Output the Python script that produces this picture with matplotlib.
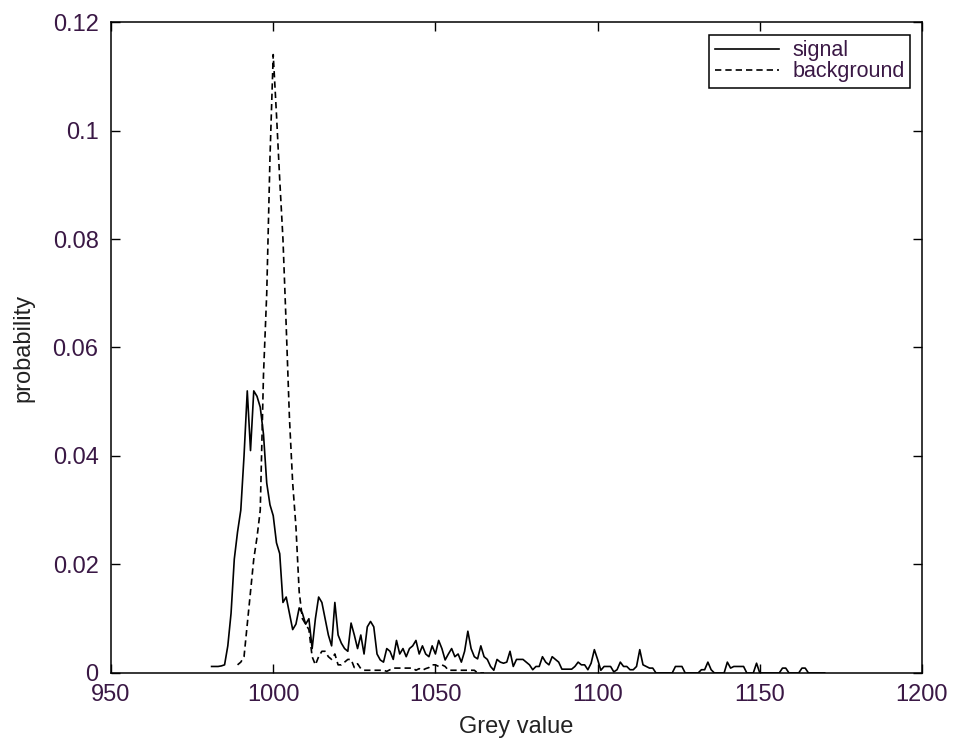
import matplotlib
matplotlib.use('Agg')
import matplotlib.pyplot as plt
import numpy as np

plt.rcParams['font.family'] = ['Liberation Sans', 'DejaVu Sans']

# grey level of the first bin of each histogram
signal_start = 981
background_start = 989

# probability per grey level
signal = [
    0.0012, 0.0012, 0.0012, 0.0013, 0.0015,
    0.005, 0.011, 0.021, 0.026, 0.030,
    0.040, 0.052, 0.041, 0.052, 0.051,
    0.049, 0.044, 0.035, 0.031, 0.029,
    0.024, 0.022, 0.013, 0.014, 0.011,
    0.008, 0.009, 0.012, 0.011, 0.009,
    0.010, 0.0045, 0.010, 0.014, 0.013,
    0.010, 0.007, 0.005, 0.013, 0.007,
    0.0055, 0.0045, 0.004, 0.0092, 0.007,
    0.0045, 0.007, 0.0035, 0.0085, 0.0095,
    0.0085, 0.0035, 0.0024, 0.002, 0.0045,
    0.004, 0.0025, 0.006, 0.0035, 0.0045,
    0.003, 0.0045, 0.005, 0.006, 0.0035,
    0.005, 0.0035, 0.003, 0.005, 0.0035,
    0.006, 0.0045, 0.0024, 0.0035, 0.0045,
    0.003, 0.0035, 0.002, 0.004, 0.0077,
    0.0045, 0.003, 0.0026, 0.005, 0.003,
    0.0025, 0.0012, 0.0005, 0.0025, 0.002,
    0.0018, 0.002, 0.004, 0.0012, 0.0025,
    0.0025, 0.0025, 0.002, 0.0015, 0.0006,
    0.0012, 0.0012, 0.003, 0.002, 0.0015,
    0.003, 0.0025, 0.002, 0.0007, 0.0007,
    0.0007, 0.0007, 0.0012, 0.002, 0.0015,
    0.0015, 0.0006, 0.0018, 0.0043, 0.0025,
    0.0005, 0.0012, 0.0012, 0.0012, 0.0002,
    0.0006, 0.002, 0.0012, 0.0012, 0.0006,
    0.0006, 0.0012, 0.0043, 0.0015, 0.0012,
    0.0009, 0.0009, 0, 0, 0,
    0, 0, 0, 0.0012, 0.0012,
    0.0012, 0, 0, 0, 0,
    0, 0.0006, 0.0006, 0.002, 0.0006,
    0, 0, 0, 0, 0.002,
    0.0009, 0.0012, 0.0012, 0.0012, 0.0012,
    0, 0, 0, 0.0018, 0,
    0, 0, 0, 0, 0,
    0, 0.0009, 0.0009, 0, 0,
    0, 0, 0.0009, 0.0009, 0,
    0, 0, 0, 0, 0,
]

background = [
    0.0015, 0.002, 0.003, 0.009, 0.015,
    0.021, 0.025, 0.030, 0.055, 0.070,
    0.095, 0.114, 0.103, 0.091, 0.080,
    0.064, 0.047, 0.035, 0.027, 0.015,
    0.010, 0.009, 0.008, 0.003, 0.0015,
    0.003, 0.004, 0.004, 0.003, 0.0025,
    0.0035, 0.0015, 0.0015, 0.002, 0.0025,
    0.0025, 0.001, 0.0017, 0.0008, 0.0005,
    0.0005, 0.0005, 0.0005, 0.0005, 0.0005,
    0.0005, 0.0003, 0.0006, 0.0009, 0.0009,
    0.0009, 0.0009, 0.0009, 0.0009, 0.0009,
    0.0005, 0.0008, 0.0005, 0.0008, 0.001,
    0.0015, 0.0015, 0.0012, 0.0015, 0.0012,
    0.0005, 0.0005, 0.0005, 0.0005, 0.0005,
    0.0005, 0.0005, 0.0005, 0.0005, 0, 0, 0,
]

xticks = [950, 1000, 1050, 1100, 1150, 1200]
yticks = [0, 0.02, 0.04, 0.06, 0.08, 0.1, 0.12]
ytick_labels = ['0', '0.02', '0.04', '0.06', '0.08', '0.1', '0.12']

tick_color = '#3a1845'

fig = plt.figure(figsize=(9.58, 7.49), dpi=100)
ax = fig.add_axes([0.1159, 0.1015, 0.8465, 0.8691])

x_sig = np.arange(signal_start, signal_start + len(signal))
x_bg = np.arange(background_start, background_start + len(background))

ax.plot(x_sig, signal, color='black', lw=1.2, label='signal')
ax.plot(x_bg, background, color='black', lw=1.2, dashes=(3.8, 2.4),
        label='background')

ax.set_xlim(950, 1200)
ax.set_ylim(0, 0.12)
ax.set_xticks(xticks)
ax.set_yticks(yticks)
ax.set_yticklabels(ytick_labels)

ax.tick_params(direction='in', length=6.5, width=1, top=True, right=True,
               labelsize=17, labelcolor=tick_color)
ax.tick_params(axis='x', pad=8)
ax.tick_params(axis='y', pad=9)
for sp in ax.spines.values():
    sp.set_linewidth(1.1)

ax.set_xlabel('Grey value', fontsize=17, color='#222222', labelpad=7)
ax.set_ylabel('probability', fontsize=17, color='#222222')
ax.yaxis.set_label_coords(-0.095, 0.5)

leg = ax.legend(loc='upper right', bbox_to_anchor=(910 / 958, 1 - 35 / 749),
                bbox_transform=fig.transFigure, borderaxespad=0,
                fontsize=15.5, fancybox=False, framealpha=1, edgecolor='black',
                handlelength=3.0, handletextpad=0.6, labelspacing=0.0,
                borderpad=0.25)
leg.get_frame().set_linewidth(1.1)
for t in leg.get_texts():
    t.set_color(tick_color)

fig.savefig('out.png', dpi=100)
